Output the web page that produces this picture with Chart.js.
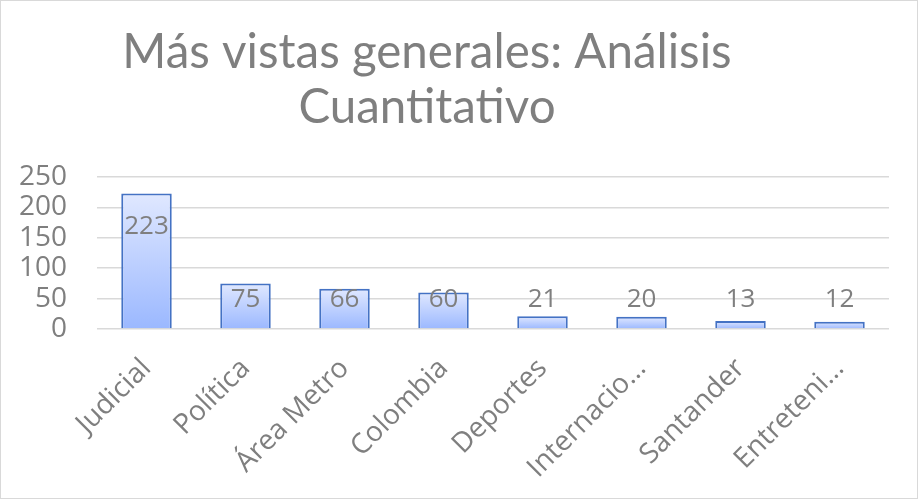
<!DOCTYPE html>
<html>
<head>
<meta charset="utf-8">
<script src="https://cdn.jsdelivr.net/npm/chart.js@4/dist/chart.umd.min.js"></script>
<style>
	html, body { margin: 0; padding: 0; background: #fff; }
	#wrap { width: 918px; height: 499px; box-sizing: border-box; border: 1px solid #d9d9d9; position: relative; }
	#chart { display: block; }
</style>
</head>
<body>
<div id="wrap"><canvas id="chart" width="916" height="497"></canvas></div>
<script>
'use strict';

var titleLines = ['Más vistas generales: Análisis', 'Cuantitativo'];
var categories = ['Judicial', 'Política', 'Área Metro', 'Colombia', 'Deportes', 'Internacio…', 'Santander', 'Entreteni…'];
var views = [223, 75, 66, 60, 21, 20, 13, 12];
var yTicks = [0, 50, 100, 150, 200, 250];

var textColor = '#7f7f7f';

// Title, drawn above the plot (Excel style, slightly left of centre)
var titlePlugin = {
	id: 'excelTitle',
	afterDraw: function(chart) {
		var ctx = chart.ctx;
		ctx.save();
		ctx.fillStyle = textColor;
		ctx.font = '47.5px Lato';
		ctx.textAlign = 'center';
		ctx.textBaseline = 'alphabetic';
		var cx = 426;
		ctx.fillText(titleLines[0], cx, 67);
		ctx.fillText(titleLines[1], cx, 122);
		ctx.restore();
	}
};

// Value labels on the bars
var valueLabels = {
	id: 'valueLabels',
	afterDatasetsDraw: function(chart) {
		var ctx = chart.ctx;
		var meta = chart.getDatasetMeta(0);
		ctx.save();
		ctx.fillStyle = textColor;
		ctx.font = '26px "Open Sans"';
		ctx.textAlign = 'center';
		ctx.textBaseline = 'middle';
		meta.data.forEach(function(bar, i) {
			var y = Math.min(bar.y + 33, bar.base - 29);
			ctx.fillText(String(views[i]), bar.x, y);
		});
		ctx.restore();
	}
};

function barGradient(c) {
	var chart = c.chart;
	var yScale = chart.scales.y;
	if (!chart.chartArea || !yScale) {
		return '#bccfff';
	}
	var top = yScale.getPixelForValue(c.raw);
	var bottom = yScale.getPixelForValue(0);
	var g = chart.ctx.createLinearGradient(0, top, 0, bottom);
	g.addColorStop(0, '#e0e8ff');
	g.addColorStop(1, '#9bb8ff');
	return g;
}

new Chart(document.getElementById('chart'), {
	type: 'bar',
	data: {
		labels: categories,
		datasets: [ {
			data: views,
			backgroundColor: barGradient,
			borderColor: '#4472c4',
			borderWidth: 2,
			barPercentage: 0.51,
			categoryPercentage: 1
		} ]
	},
	options: {
		responsive: false,
		animation: false,
		layout: {
			padding: { top: 176, left: 18, right: 28, bottom: 0 }
		},
		scales: {
			x: {
				grid: { display: false, drawTicks: false },
				border: { display: false },
				ticks: {
					color: textColor,
					font: { family: 'Open Sans', size: 28 },
					maxRotation: 45,
					minRotation: 45,
					padding: 23,
					autoSkip: false
				},
				afterFit: function(scale) {
					scale.height = 169;
					scale.paddingLeft = 0;
					scale.paddingRight = 0;
				}
			},
			y: {
				min: 0,
				max: 250,
				afterBuildTicks: function(scale) {
					scale.ticks = yTicks.map(function(v) { return { value: v }; });
				},
				afterFit: function(scale) {
					scale.width = 78;
				},
				grid: {
					color: '#d9d9d9',
					lineWidth: 1.5,
					drawTicks: false
				},
				border: { display: false },
				ticks: {
					color: textColor,
					font: { family: 'Open Sans', size: 28 },
					padding: 30,
					autoSkip: false
				}
			}
		},
		plugins: {
			legend: { display: false },
			tooltip: { enabled: false }
		}
	},
	plugins: [ titlePlugin, valueLabels ]
});
</script>
</body>
</html>
